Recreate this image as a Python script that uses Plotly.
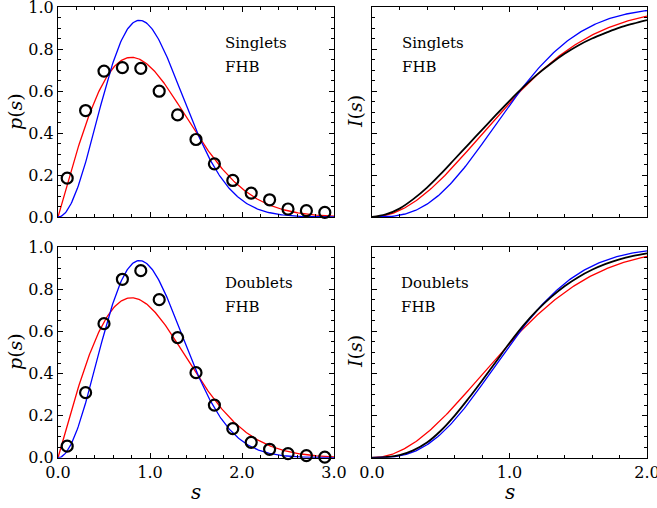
import math
import numpy as np
import plotly.graph_objects as go

# Nearest-neighbour spacing histograms (bin centres and heights)
s_bins = [0.1, 0.3, 0.5, 0.7, 0.9, 1.1, 1.3, 1.5, 1.7, 1.9, 2.1, 2.3, 2.5, 2.7, 2.9]
p_singlets = [0.185, 0.507, 0.695, 0.711, 0.708, 0.599, 0.486, 0.369, 0.253, 0.174,
              0.114, 0.082, 0.038, 0.030, 0.022]
p_doublets = [0.055, 0.309, 0.637, 0.848, 0.889, 0.751, 0.571, 0.404, 0.250, 0.138,
              0.073, 0.040, 0.019, 0.010, 0.003]

# Empirical cumulative spacing distributions
s_cum = [0.0, 0.1, 0.2, 0.3, 0.4, 0.5, 0.6, 0.7, 0.8, 0.9, 1.0,
         1.1, 1.2, 1.3, 1.4, 1.5, 1.6, 1.7, 1.8, 1.9, 2.0]
I_singlets = [0.0, 0.012, 0.040, 0.085, 0.140, 0.205, 0.275, 0.345, 0.415, 0.485, 0.553,
              0.618, 0.678, 0.730, 0.777, 0.817, 0.850, 0.877, 0.902, 0.921, 0.938]
I_doublets = [0.0, 0.003, 0.012, 0.035, 0.072, 0.128, 0.199, 0.280, 0.366, 0.455, 0.545,
              0.628, 0.700, 0.762, 0.815, 0.858, 0.893, 0.921, 0.943, 0.959, 0.971]

panel_labels = ["Singlets", "Doublets"]
model_label = "FHB"


# Wigner surmises: GOE (red) and GUE (blue)
def p_goe(s):
    return np.pi / 2 * s * np.exp(-np.pi * s ** 2 / 4)


def p_gue(s):
    return 32 / np.pi ** 2 * s ** 2 * np.exp(-4 * s ** 2 / np.pi)


def I_goe(s):
    return 1 - np.exp(-np.pi * s ** 2 / 4)


def I_gue(s):
    erf = np.vectorize(math.erf)
    return erf(2 * s / np.sqrt(np.pi)) - 4 * s / np.pi * np.exp(-4 * s ** 2 / np.pi)


sp = np.linspace(0, 3, 301)
si = np.linspace(0, 2, 201)

RED = "#ff0000"
BLUE = "#0000ff"
FONT = "DejaVu Serif"

fig = go.Figure()

panels = [
    # (xaxis, yaxis, histogram values, cumulative values)
    ("x", "y", p_singlets, None),
    ("x2", "y2", None, I_singlets),
    ("x3", "y3", p_doublets, None),
    ("x4", "y4", None, I_doublets),
]

for xa, ya, hist, cum in panels:
    if hist is not None:
        fig.add_trace(go.Scatter(x=sp, y=p_goe(sp), mode="lines", xaxis=xa, yaxis=ya,
                                 line=dict(color=RED, width=1.3), showlegend=False))
        fig.add_trace(go.Scatter(x=sp, y=p_gue(sp), mode="lines", xaxis=xa, yaxis=ya,
                                 line=dict(color=BLUE, width=1.3), showlegend=False))
        fig.add_trace(go.Scatter(x=s_bins, y=hist, mode="markers", xaxis=xa, yaxis=ya,
                                 cliponaxis=False,
                                 marker=dict(symbol="circle-open", size=11, color="black",
                                             line=dict(width=2.2, color="black")),
                                 showlegend=False))
    else:
        fig.add_trace(go.Scatter(x=si, y=I_goe(si), mode="lines", xaxis=xa, yaxis=ya,
                                 line=dict(color=RED, width=1.3), showlegend=False))
        fig.add_trace(go.Scatter(x=si, y=I_gue(si), mode="lines", xaxis=xa, yaxis=ya,
                                 line=dict(color=BLUE, width=1.3), showlegend=False))
        fig.add_trace(go.Scatter(x=s_cum, y=cum, mode="lines", xaxis=xa, yaxis=ya,
                                 line=dict(color="black", width=1.8, shape="spline"),
                                 showlegend=False))

W, H = 657, 508
xl = [58 / W, 334 / W]
xr = [372 / W, 647 / W]
yt = [1 - 217 / H, 1 - 7 / H]
yb = [1 - 457.7 / H, 1 - 247.3 / H]

tickfont = dict(family=FONT, size=16, color="black")


def xaxis(domain, rng, anchor, labels):
    return dict(domain=domain, range=rng, anchor=anchor, showline=True, linecolor="black",
                linewidth=1, mirror="ticks", ticks="inside", ticklen=5, tickcolor="black",
                dtick=1, tick0=0, tickformat=".1f", showticklabels=labels, tickfont=tickfont,
                showgrid=False, zeroline=False, automargin=False, ticklabeloverflow="allow",
                minor=dict(ticks="inside", dtick=0.2, ticklen=3, tickcolor="black"))


def yaxis(domain, anchor, labels):
    return dict(domain=domain, range=[0, 1], anchor=anchor, showline=True, linecolor="black",
                linewidth=1, mirror="ticks", ticks="inside", ticklen=5, tickcolor="black",
                dtick=0.2, tick0=0, tickformat=".1f", showticklabels=labels, tickfont=tickfont,
                showgrid=False, zeroline=False, automargin=False, ticklabeloverflow="allow",
                minor=dict(ticks="inside", dtick=0.05, ticklen=3, tickcolor="black"))


fig.update_layout(
    width=W, height=H,
    margin=dict(l=0, r=0, t=0, b=0),
    paper_bgcolor="white", plot_bgcolor="white",
    font=dict(family=FONT, color="black"),
    xaxis=xaxis(xl, [0, 3], "y", False),
    yaxis=yaxis(yt, "x", True),
    xaxis2=xaxis(xr, [0, 2], "y2", False),
    yaxis2=yaxis(yt, "x2", False),
    xaxis3=xaxis(xl, [0, 3], "y3", True),
    yaxis3=yaxis(yb, "x3", True),
    xaxis4=xaxis(xr, [0, 2], "y4", True),
    yaxis4=yaxis(yb, "x4", False),
)

# Axis titles
axis_titles = [
    (15, 112, "<i>p</i>(<i>s</i>)", -90), (355, 112, "<i>I</i>(<i>s</i>)", -90),
    (15, 352, "<i>p</i>(<i>s</i>)", -90), (355, 352, "<i>I</i>(<i>s</i>)", -90),
    (196, 492, "<i>s</i>", 0), (510, 492, "<i>s</i>", 0),
]
for px, py, txt, ang in axis_titles:
    fig.add_annotation(x=px / W, y=1 - py / H, xref="paper", yref="paper", text=txt,
                       textangle=ang, showarrow=False, xanchor="center", yanchor="middle",
                       font=dict(family=FONT, size=20 if ang == 0 else 19, color="black"))

# Panel annotations
ann_font = dict(family=FONT, size=15, color="black")
positions = [
    (223, 43, panel_labels[0]), (223, 67, model_label),
    (400, 43, panel_labels[0]), (400, 67, model_label),
    (223, 283, panel_labels[1]), (223, 307, model_label),
    (399, 283, panel_labels[1]), (399, 307, model_label),
]
for px, py, txt in positions:
    fig.add_annotation(x=px / W, y=1 - py / H, xref="paper", yref="paper", text=txt,
                       showarrow=False, xanchor="left", yanchor="middle", font=ann_font)

fig.write_html("out.html")
